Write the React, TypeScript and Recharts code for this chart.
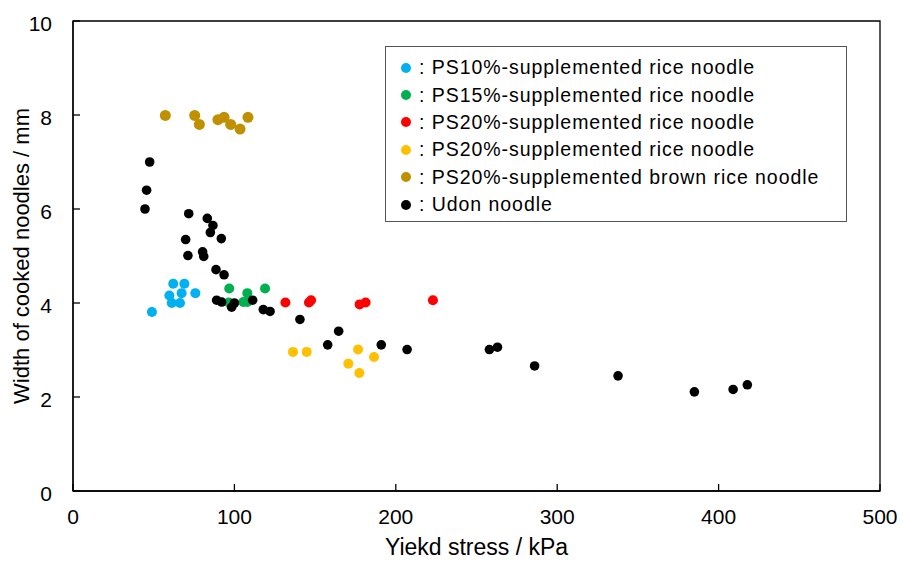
import React from "react";
import { ScatterChart, Scatter, XAxis, YAxis, ReferenceArea, Legend } from "recharts";

// [yield stress kPa, width mm]
const ps10: number[][] = [
  [48.9, 3.81], [59.7, 4.16], [61.2, 4.0], [62.1, 4.41],
  [66.3, 4.0], [67.3, 4.21], [69.0, 4.41], [75.8, 4.21],
];
const ps15: number[][] = [
  [96.5, 4.01], [96.8, 4.31], [105.5, 4.02], [108.0, 4.02], [108.0, 4.21], [119.0, 4.31],
];
const ps20: number[][] = [
  [131.6, 4.01], [146.2, 4.01], [147.5, 4.06], [177.6, 3.97], [181.3, 4.01], [223.0, 4.06],
];
const ps20b: number[][] = [
  [136.3, 2.96], [144.8, 2.96], [170.6, 2.71], [176.6, 3.01], [177.4, 2.51], [186.5, 2.85],
];
const ps20brown: number[][] = [
  [57.2, 7.99], [75.4, 7.99], [78.3, 7.8], [89.8, 7.9], [93.6, 7.95], [97.7, 7.8], [103.5, 7.7], [108.4, 7.95],
];
const udon: number[][] = [
  [44.6, 6.0], [45.6, 6.4], [47.5, 7.0], [69.8, 5.35], [71.2, 5.01], [71.7, 5.9],
  [80.3, 5.09], [81.0, 4.99], [83.2, 5.8], [85.1, 5.5], [86.7, 5.65], [88.6, 4.71],
  [89.0, 4.06], [91.9, 5.37], [92.1, 4.02], [93.6, 4.6], [98.3, 3.91], [100.0, 4.0],
  [111.3, 4.06], [117.9, 3.86], [122.1, 3.82], [140.6, 3.65], [157.8, 3.11], [164.6, 3.4],
  [191.0, 3.11], [207.0, 3.01], [258.0, 3.01], [263.0, 3.06], [286.0, 2.66], [337.7, 2.45],
  [385.0, 2.11], [409.0, 2.16], [417.8, 2.26],
];

const xTicks = [0, 100, 200, 300, 400, 500];
const yTicks = [0, 2, 4, 6, 8, 10];

const series = [
  { name: "PS10%-supplemented rice noodle", color: "#00B0F0", data: ps10, r: 5 },
  { name: "PS15%-supplemented rice noodle", color: "#00B050", data: ps15, r: 5 },
  { name: "PS20%-supplemented rice noodle", color: "#FF0000", data: ps20, r: 5 },
  { name: "PS20%-supplemented rice noodle", color: "#FFC000", data: ps20b, r: 5 },
  { name: "PS20%-supplemented brown rice noodle", color: "#BF9000", data: ps20brown, r: 5.5 },
  { name: "Udon noodle", color: "#000000", data: udon, r: 4.8 },
];

const toPoints = (d: number[][]) => d.map(([x, y]) => ({ x, y }));

const X_MARGIN = 18;
const Y_MARGIN = 21;

function XTick(props: any) {
  const { x, y, payload } = props;
  return (
    <g>
      <line x1={x} x2={x} y1={y - X_MARGIN} y2={y - X_MARGIN - 7} stroke="#000" strokeWidth={1.3} />
      <text x={x} y={y} dy="0.72em" textAnchor="middle" fontSize={21} fill="#000">
        {payload.value}
      </text>
    </g>
  );
}

function YTick(props: any) {
  const { x, y, payload } = props;
  return (
    <g>
      <line x1={x + Y_MARGIN} x2={x + Y_MARGIN + 7} y1={y} y2={y} stroke="#000" strokeWidth={1.3} />
      <text x={x} y={y} dy={9.5} textAnchor="end" fontSize={21} fill="#000">
        {payload.value}
      </text>
    </g>
  );
}

// legend box, drawn in the series order of the figure
function LegendBox() {
  return (
    <div
      style={{
        boxSizing: "border-box",
        width: 462,
        height: 176,
        border: "1.5px solid #555",
        background: "#fff",
        paddingTop: 7,
        fontSize: 19.5,
        letterSpacing: 0.95,
        color: "#000",
      }}
    >
      {series.map((s, i) => (
        <div key={i} style={{ display: "flex", alignItems: "center", height: 27.4, whiteSpace: "nowrap" }}>
          <span
            style={{
              display: "inline-block",
              width: 10,
              height: 10,
              borderRadius: "50%",
              background: s.color,
              marginLeft: 15,
              marginRight: 8,
            }}
          />
          <span>: {s.name}</span>
        </div>
      ))}
    </div>
  );
}

export default function App() {
  return (
    <div
      style={{
        position: "absolute",
        left: 0,
        top: 0,
        width: 903,
        height: 561,
        background: "#fff",
        fontFamily: "'Liberation Sans', Arial, sans-serif",
      }}
    >
      <ScatterChart width={903} height={561} margin={{ top: 21, right: 23, bottom: 0, left: 0 }}>
        <XAxis
          type="number"
          dataKey="x"
          domain={[0, 500]}
          ticks={xTicks}
          tickSize={0}
          tickMargin={X_MARGIN}
          tick={<XTick />}
          height={70}
          axisLine={{ stroke: "#000", strokeWidth: 1.3 }}
          tickLine={false}
          label={{ value: "Yiekd stress / kPa", position: "center", dy: 21, fontSize: 23, fill: "#000" }}
        />
        <YAxis
          type="number"
          dataKey="y"
          domain={[0, 10]}
          ticks={yTicks}
          tickSize={0}
          tickMargin={Y_MARGIN}
          tick={<YTick />}
          width={73}
          axisLine={{ stroke: "#000", strokeWidth: 1.3 }}
          tickLine={false}
          label={{
            value: "Width of cooked noodles / mm",
            angle: -90,
            position: "center",
            dx: -15,
            fontSize: 22,
            fill: "#000",
          }}
        />
        <ReferenceArea x1={0} x2={500} y1={0} y2={10} fill="none" stroke="#000" strokeWidth={1.3} />
        {series.map((s, i) => (
          <Scatter
            key={i}
            name={s.name}
            data={toPoints(s.data)}
            fill={s.color}
            legendType="circle"
            isAnimationActive={false}
            shape={(p: any) => <circle cx={p.cx} cy={p.cy} r={s.r} fill={s.color} />}
          />
        ))}
        <Legend
          layout="vertical"
          align="center"
          verticalAlign="middle"
          content={<LegendBox />}
          wrapperStyle={{ left: 385, top: 46, width: 462, height: 176 }}
        />
      </ScatterChart>
    </div>
  );
}
